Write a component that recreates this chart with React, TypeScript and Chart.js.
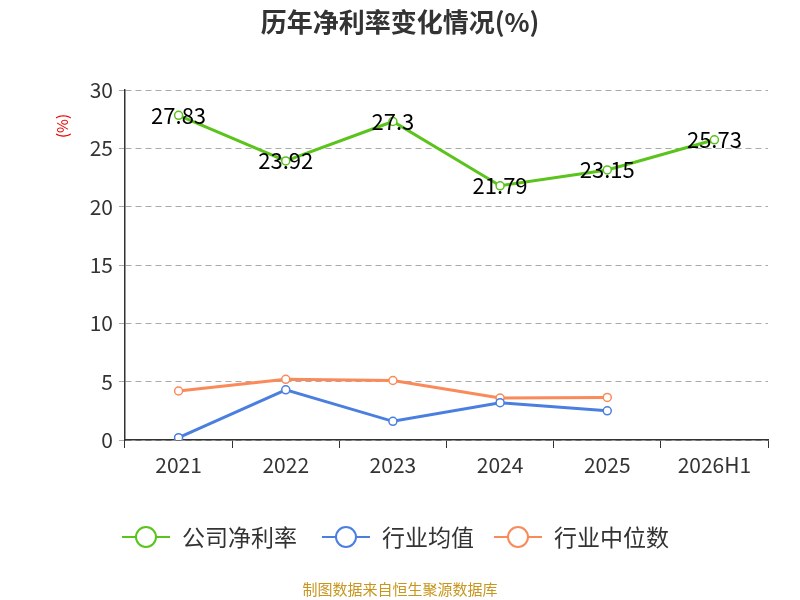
import React, { useEffect, useRef } from "react";
import { Chart, registerables } from "chart.js";
Chart.register(...registerables);

const categories = ["2021", "2022", "2023", "2024", "2025", "2026H1"];
const company = [27.83, 23.92, 27.3, 21.79, 23.15, 25.73];
const industryAvg = [0.2, 4.3, 1.6, 3.2, 2.5, null];
const industryMedian = [4.2, 5.2, 5.1, 3.6, 3.65, null];
const seriesNames = ["公司净利率", "行业均值", "行业中位数"];
const colors = ["#5ac31c", "#4a7fe0", "#fa8a5a"];

const FONT = "'Noto Sans CJK SC', 'Noto Sans', sans-serif";

const decor = {
  id: "decor",
  afterDraw(chart: any) {
    const ctx = chart.ctx;
    ctx.save();
    ctx.textAlign = "center";
    ctx.textBaseline = "middle";
    ctx.fillStyle = "#333";
    ctx.font = `bold 26px ${FONT}`;
    ctx.fillText("历年净利率变化情况(%)", 400, 22);
    ctx.save();
    ctx.translate(62, 126);
    ctx.rotate(-Math.PI / 2);
    ctx.fillStyle = "#e00";
    ctx.font = `15px ${FONT}`;
    ctx.fillText("(%)", 0, 0);
    ctx.restore();
    const meta = chart.getDatasetMeta(0);
    ctx.fillStyle = "#000";
    ctx.font = `22px ${FONT}`;
    meta.data.forEach((p: any, i: number) => {
      ctx.fillText(String(company[i]), p.x, p.y);
    });
    const xs = [122, 322, 494];
    ctx.font = `23px ${FONT}`;
    ctx.textAlign = "left";
    seriesNames.forEach((n, i) => {
      const x = xs[i], y = 537;
      ctx.strokeStyle = colors[i];
      ctx.lineWidth = 2;
      ctx.beginPath(); ctx.moveTo(x, y); ctx.lineTo(x + 48, y); ctx.stroke();
      ctx.beginPath(); ctx.arc(x + 24, y, 10, 0, Math.PI * 2);
      ctx.fillStyle = "#fff"; ctx.fill(); ctx.stroke();
      ctx.fillStyle = "#333";
      ctx.fillText(n, x + 60, y);
    });
    ctx.textAlign = "center";
    ctx.fillStyle = "#c8961e";
    ctx.font = `15px ${FONT}`;
    ctx.fillText("制图数据来自恒生聚源数据库", 400, 589);
    ctx.restore();
  },
};

export default function App() {
  const ref = useRef<HTMLCanvasElement>(null);
  useEffect(() => {
    document.body.style.margin = "0";
    const mk = (label: string, data: any[], c: string) => ({
      label, data, borderColor: c, backgroundColor: "#fff", borderWidth: 3,
      pointRadius: 4, pointBorderWidth: 1.5, pointBackgroundColor: "#fff", pointBorderColor: c,
      tension: 0, spanGaps: false,
    });
    const chart = new Chart(ref.current!, {
      type: "line",
      data: {
        labels: categories,
        datasets: [
          mk(seriesNames[0], company, colors[0]),
          mk(seriesNames[1], industryAvg, colors[1]),
          mk(seriesNames[2], industryMedian, colors[2]),
        ],
      },
      options: {
        responsive: false,
        animation: false,
        layout: { padding: { left: 65, right: 32, top: 90, bottom: 110 } },
        plugins: { legend: { display: false }, tooltip: { enabled: false } },
        scales: {
          x: {
            offset: true,
            grid: { offset: true, drawOnChartArea: false, tickLength: 8, color: "#333" },
            border: { color: "#333", width: 1.5 },
            ticks: { color: "#333", font: { size: 21, family: FONT }, padding: 4 },
            afterFit: (s: any) => { s.height = 50; },
          },
          y: {
            min: 0, max: 30,
            ticks: { stepSize: 5, color: "#333", font: { size: 21, family: FONT }, padding: 6 },
            grid: { color: "#aaa", tickLength: 6, drawTicks: true },
            border: { color: "#333", width: 1.5, dash: [6, 4] },
            afterFit: (s: any) => { s.width = 60; },
          },
        },
      },
      plugins: [decor],
    });
    return () => chart.destroy();
  }, []);
  return (
    <div style={{ position: "absolute", left: 0, top: 0, width: 800, height: 600 }}>
      <canvas ref={ref} width={800} height={600} />
    </div>
  );
}
